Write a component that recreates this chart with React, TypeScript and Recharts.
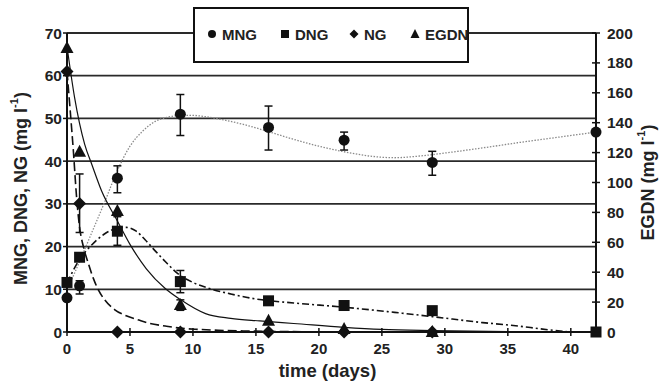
import React from 'react';
import {
  ComposedChart,
  Line,
  Scatter,
  XAxis,
  YAxis,
  CartesianGrid,
  ErrorBar,
  Label,
} from 'recharts';

// Measured concentrations (left axis, mg/l) with asymmetric error deltas [down, up]
const mngPoints = [
  { t: 0, v: 8 },
  { t: 1, v: 10.8, err: [1.9, 1.2] },
  { t: 4, v: 36, err: [3.4, 2.9] },
  { t: 9, v: 51, err: [5, 4.6] },
  { t: 16, v: 47.9, err: [5.3, 5] },
  { t: 22, v: 44.9, err: [2.3, 1.9] },
  { t: 29, v: 39.7, err: [3, 2.6] },
  { t: 42, v: 46.8 },
];

const dngPoints = [
  { t: 0, v: 11.6 },
  { t: 1, v: 17.5 },
  { t: 4, v: 23.6, err: [3.3, 3.4] },
  { t: 9, v: 11.8, err: [2.6, 2.6] },
  { t: 16, v: 7.3 },
  { t: 22, v: 6.2 },
  { t: 29, v: 5.0 },
  { t: 42, v: 0 },
];

const ngPoints = [
  { t: 0, v: 61 },
  { t: 1, v: 30.1, err: [6.8, 6.9] },
  { t: 4, v: 0 },
  { t: 9, v: 0 },
  { t: 16, v: 0 },
  { t: 22, v: 0 },
  { t: 29, v: 0 },
];

// EGDN on the right axis (mg/l)
const egdnPoints = [
  { t: 0, v: 190 },
  { t: 1, v: 120.6 },
  { t: 4, v: 81 },
  { t: 9, v: 18, err: [3.5, 3.5] },
  { t: 16, v: 7.6 },
  { t: 22, v: 2 },
  { t: 29, v: 0 },
];

// Fitted trend curves
const mngFit = [
  { t: 0, v: 9.8 }, { t: 1, v: 16.5 }, { t: 2, v: 23.5 }, { t: 3, v: 30.5 },
  { t: 4, v: 37.8 }, { t: 5, v: 43.5 }, { t: 6, v: 47 }, { t: 7, v: 49.3 },
  { t: 8, v: 50.3 }, { t: 9, v: 50.7 }, { t: 10, v: 50.7 }, { t: 11, v: 50.4 },
  { t: 12, v: 49.9 }, { t: 14, v: 48.6 }, { t: 16, v: 46.9 }, { t: 18, v: 45.1 },
  { t: 20, v: 43.5 }, { t: 22, v: 42.2 }, { t: 24, v: 41.2 }, { t: 26, v: 40.8 },
  { t: 28, v: 41.2 }, { t: 30, v: 41.9 }, { t: 33, v: 43.1 }, { t: 36, v: 44.4 },
  { t: 39, v: 45.6 }, { t: 42, v: 46.8 },
];

const ngFit = [
  { t: 0, v: 61 }, { t: 0.25, v: 52 }, { t: 0.5, v: 42.6 }, { t: 0.75, v: 32 },
  { t: 1, v: 24.5 }, { t: 1.3, v: 20 }, { t: 1.7, v: 16 }, { t: 2.1, v: 12.5 },
  { t: 2.5, v: 9.8 }, { t: 3, v: 7.5 }, { t: 3.8, v: 5.2 }, { t: 4.7, v: 3.8 },
  { t: 5.7, v: 2.8 }, { t: 6.6, v: 2.0 }, { t: 7.8, v: 1.4 }, { t: 9, v: 0.9 },
  { t: 10.5, v: 0.6 }, { t: 12, v: 0.4 }, { t: 14, v: 0.25 }, { t: 16, v: 0.15 },
  { t: 20, v: 0.05 }, { t: 25, v: 0 }, { t: 40, v: 0 },
];

const egdnFit = [
  { t: 0, v: 191 }, { t: 0.6, v: 157 }, { t: 1.4, v: 125.7 }, { t: 2, v: 111.4 },
  { t: 2.75, v: 94.3 }, { t: 4, v: 74.3 }, { t: 5, v: 58.6 }, { t: 6.3, v: 42.3 },
  { t: 7.8, v: 29.1 }, { t: 9, v: 21.7 }, { t: 11, v: 12.3 }, { t: 13, v: 9.1 },
  { t: 15.3, v: 7.4 }, { t: 18, v: 5.7 }, { t: 22, v: 3.1 }, { t: 25, v: 1.7 },
  { t: 29, v: 0.9 }, { t: 35, v: 0.3 }, { t: 42, v: 0 },
];

const dngFit = [
  { t: 0, v: 11.5 }, { t: 1, v: 17 }, { t: 2, v: 20.5 }, { t: 3, v: 23 },
  { t: 4, v: 24.3 }, { t: 4.7, v: 24.5 }, { t: 5.5, v: 23.6 }, { t: 6.2, v: 21.6 },
  { t: 7, v: 19 }, { t: 7.8, v: 16.5 }, { t: 9, v: 13.2 }, { t: 10, v: 11.6 },
  { t: 11.3, v: 10.2 }, { t: 13, v: 8.9 }, { t: 15.3, v: 7.6 }, { t: 18, v: 6.8 },
  { t: 22, v: 5.8 }, { t: 26, v: 4.6 }, { t: 29, v: 3.6 }, { t: 33, v: 2.2 },
  { t: 35.2, v: 1.6 }, { t: 38.3, v: 0.5 }, { t: 40, v: 0 },
];

const xTicks = [0, 5, 10, 15, 20, 25, 30, 35, 40];
const leftTicks = [0, 10, 20, 30, 40, 50, 60, 70];
const rightTicks = [0, 20, 40, 60, 80, 100, 120, 140, 160, 180, 200];

const FONT = '"Liberation Sans", Arial, sans-serif';
const INK = '#111';

const CircleMark = (p: any) => <circle cx={p.cx} cy={p.cy} r={5.5} fill={INK} />;
const SquareMark = (p: any) => (
  <rect x={p.cx - 5.5} y={p.cy - 5.5} width={11} height={11} fill={INK} />
);
const DiamondMark = (p: any) => (
  <polygon
    points={`${p.cx},${p.cy - 6.5} ${p.cx + 6.5},${p.cy} ${p.cx},${p.cy + 6.5} ${p.cx - 6.5},${p.cy}`}
    fill={INK}
  />
);
const TriangleMark = (p: any) => (
  <polygon
    points={`${p.cx},${p.cy - 7} ${p.cx + 6.5},${p.cy + 5} ${p.cx - 6.5},${p.cy + 5}`}
    fill={INK}
  />
);

const XTick = (p: any) => (
  <g>
    <line x1={p.x} x2={p.x} y1={p.y - 4} y2={p.y + 4} stroke={INK} strokeWidth={1.5} />
    <text
      x={p.x}
      y={p.y + 22}
      textAnchor="middle"
      fontFamily={FONT}
      fontWeight="bold"
      fontSize={15}
      fill="#222"
    >
      {p.payload.value}
    </text>
  </g>
);

const RightTick = (p: any) => (
  <g>
    <line x1={p.x - 4} x2={p.x + 4} y1={p.y} y2={p.y} stroke={INK} strokeWidth={1.5} />
    <text
      x={p.x + 11}
      y={p.y + 5.5}
      textAnchor="start"
      fontFamily={FONT}
      fontWeight="bold"
      fontSize={15.5}
      fill="#222"
    >
      {p.payload.value}
    </text>
  </g>
);

const LeftTitle = (p: any) => {
  const vb = p.viewBox || {};
  const cx = vb.x + 21;
  const cy = vb.y + vb.height / 2 + 6;
  return (
    <text
      x={cx}
      y={cy}
      transform={`rotate(-90, ${cx}, ${cy})`}
      textAnchor="middle"
      dominantBaseline="central"
      fontFamily={FONT}
      fontWeight="bold"
      fontSize={18}
      fill="#222"
    >
      MNG, DNG, NG (mg l
      <tspan dy={-7} fontSize={11}>-1</tspan>
      <tspan dy={7}>)</tspan>
    </text>
  );
};

const RightTitle = (p: any) => {
  const vb = p.viewBox || {};
  const cx = vb.x + 52;
  const cy = vb.y + vb.height / 2;
  return (
    <text
      x={cx}
      y={cy}
      transform={`rotate(-90, ${cx}, ${cy})`}
      textAnchor="middle"
      dominantBaseline="central"
      fontFamily={FONT}
      fontWeight="bold"
      fontSize={18}
      fill="#222"
    >
      EGDN (mg l
      <tspan dy={-7} fontSize={11}>-1</tspan>
      <tspan dy={7}>)</tspan>
    </text>
  );
};

const BottomTitle = (p: any) => {
  const vb = p.viewBox || {};
  return (
    <text
      x={vb.x + vb.width / 2 - 4}
      y={vb.y + 45}
      textAnchor="middle"
      fontFamily={FONT}
      fontWeight="bold"
      fontSize={18.5}
      fill="#222"
    >
      time (days)
    </text>
  );
};

const legendItems = [
  { name: 'MNG', shape: 'circle', x: 19 },
  { name: 'DNG', shape: 'square', x: 92 },
  { name: 'NG', shape: 'diamond', x: 161 },
  { name: 'EGDN', shape: 'triangle', x: 222 },
];

const LegendBox = () => (
  <svg
    width={276}
    height={56}
    style={{ position: 'absolute', left: 193, top: 7, background: '#fff' }}
  >
    <rect x={1} y={1} width={274} height={54} fill="#fff" stroke={INK} strokeWidth={2} />
    {legendItems.map((it) => {
      const cy = 27;
      const cx = it.x;
      let mark: React.ReactNode = null;
      if (it.shape === 'circle') mark = <circle cx={cx} cy={cy} r={4} fill={INK} />;
      if (it.shape === 'square') mark = <rect x={cx - 4} y={cy - 4} width={8} height={8} fill={INK} />;
      if (it.shape === 'diamond')
        mark = (
          <polygon
            points={`${cx},${cy - 4.5} ${cx + 4.5},${cy} ${cx},${cy + 4.5} ${cx - 4.5},${cy}`}
            fill={INK}
          />
        );
      if (it.shape === 'triangle')
        mark = (
          <polygon points={`${cx},${cy - 5} ${cx + 4.5},${cy + 4} ${cx - 4.5},${cy + 4}`} fill={INK} />
        );
      return (
        <g key={it.name}>
          {mark}
          <text
            x={cx + 10}
            y={cy + 5.5}
            fontFamily={FONT}
            fontWeight="bold"
            fontSize={15}
            fill="#222"
          >
            {it.name}
          </text>
        </g>
      );
    })}
  </svg>
);

export default function App() {
  return (
    <div
      style={{
        position: 'absolute',
        left: 0,
        top: 0,
        width: 662,
        height: 382,
        background: '#fff',
      }}
    >
      <ComposedChart
        width={662}
        height={382}
        margin={{ top: 33, right: 0, bottom: 0, left: 0 }}
      >
        <CartesianGrid
          yAxisId="left"
          vertical={false}
          stroke="#2a2a2a"
          strokeWidth={1.8}
        />
        <XAxis
          dataKey="t"
          type="number"
          domain={[0, 42]}
          ticks={xTicks}
          height={50}
          tickSize={0}
          tickMargin={0}
          tickLine={false}
          axisLine={{ stroke: INK, strokeWidth: 2 }}
          tick={(p: any) => <XTick {...p} />}
          interval={0}
        >
          <Label content={BottomTitle} />
        </XAxis>
        <YAxis
          yAxisId="left"
          orientation="left"
          type="number"
          domain={[0, 70]}
          ticks={leftTicks}
          width={67}
          tickSize={4}
          tickMargin={1}
          interval={0}
          axisLine={{ stroke: INK, strokeWidth: 2 }}
          tickLine={{ stroke: INK, strokeWidth: 1.5 }}
          tick={{ fontFamily: FONT, fontWeight: 'bold', fontSize: 15.5, fill: '#222' }}
        >
          <Label content={LeftTitle} />
        </YAxis>
        <YAxis
          yAxisId="right"
          orientation="right"
          type="number"
          domain={[0, 200]}
          ticks={rightTicks}
          width={66}
          tickSize={0}
          tickMargin={0}
          interval={0}
          tickLine={false}
          axisLine={{ stroke: INK, strokeWidth: 2 }}
          tick={(p: any) => <RightTick {...p} />}
        >
          <Label content={RightTitle} />
        </YAxis>

        <Line
          yAxisId="left"
          data={mngFit}
          dataKey="v"
          type="monotone"
          stroke="#8a8a8a"
          strokeWidth={1.3}
          strokeDasharray="1.5 1.5"
          dot={false}
          activeDot={false}
          isAnimationActive={false}
        />
        <Line
          yAxisId="left"
          data={ngFit}
          dataKey="v"
          type="monotone"
          stroke={INK}
          strokeWidth={1.6}
          strokeDasharray="9 4"
          dot={false}
          activeDot={false}
          isAnimationActive={false}
        />
        <Line
          yAxisId="right"
          data={egdnFit}
          dataKey="v"
          type="monotone"
          stroke={INK}
          strokeWidth={1.2}
          dot={false}
          activeDot={false}
          isAnimationActive={false}
        />
        <Line
          yAxisId="left"
          data={dngFit}
          dataKey="v"
          type="monotone"
          stroke={INK}
          strokeWidth={1.6}
          strokeDasharray="7 3 2 3"
          dot={false}
          activeDot={false}
          isAnimationActive={false}
        />

        <Scatter
          yAxisId="left"
          data={mngPoints}
          dataKey="v"
          shape={CircleMark}
          isAnimationActive={false}
        >
          <ErrorBar dataKey="err" direction="y" width={4} stroke={INK} strokeWidth={1.5} />
        </Scatter>
        <Scatter
          yAxisId="left"
          data={dngPoints}
          dataKey="v"
          shape={SquareMark}
          isAnimationActive={false}
        >
          <ErrorBar dataKey="err" direction="y" width={4} stroke={INK} strokeWidth={1.5} />
        </Scatter>
        <Scatter
          yAxisId="left"
          data={ngPoints}
          dataKey="v"
          shape={DiamondMark}
          isAnimationActive={false}
        >
          <ErrorBar dataKey="err" direction="y" width={4} stroke={INK} strokeWidth={1.5} />
        </Scatter>
        <Scatter
          yAxisId="right"
          data={egdnPoints}
          dataKey="v"
          shape={TriangleMark}
          isAnimationActive={false}
        >
          <ErrorBar dataKey="err" direction="y" width={4} stroke={INK} strokeWidth={1.5} />
        </Scatter>
      </ComposedChart>
      <LegendBox />
    </div>
  );
}
